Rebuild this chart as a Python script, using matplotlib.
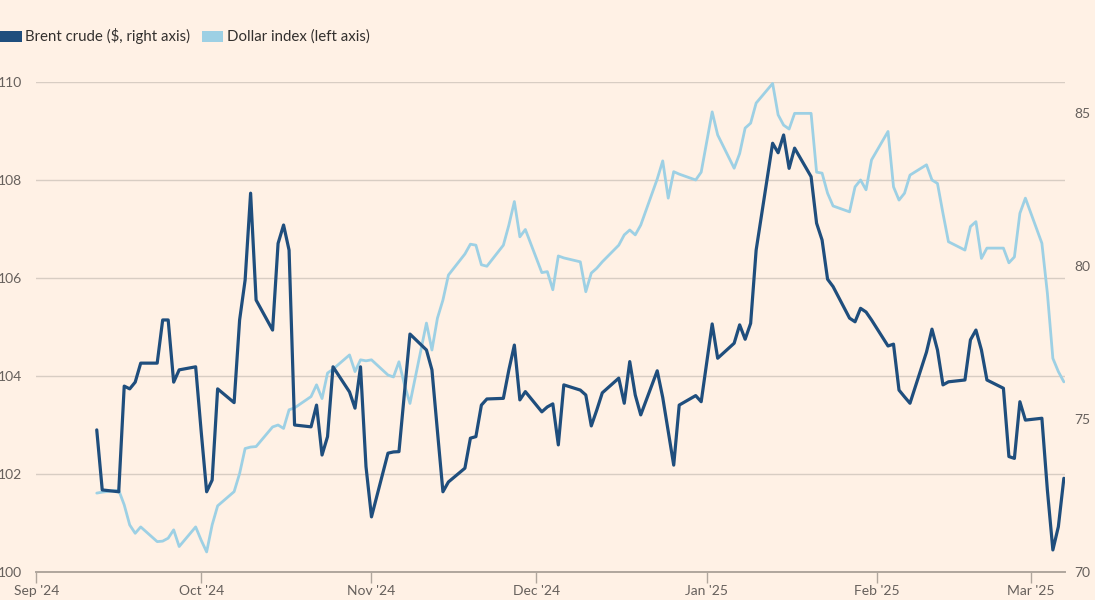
import matplotlib
matplotlib.use("Agg")
import matplotlib.pyplot as plt
from matplotlib.patches import Rectangle
import pandas as pd

# ---- data ----
brent = [
    # Sep 2024
    74.64, 72.68, 72.62, 76.07, 75.98, 76.20, 76.82, 76.82, 78.23, 78.23, 76.20, 76.60, 76.70,
    # Oct
    74.60, 72.62, 73.00, 75.98, 75.53, 78.23, 79.53, 82.37, 78.88, 77.90, 80.73, 81.33, 80.51,
    74.80, 74.74, 75.45, 73.82, 74.42, 76.70, 75.88, 75.35, 76.70, 73.44,
    # Nov
    71.80, 73.88, 73.92, 73.93, 75.85, 77.77, 77.25, 76.60, 74.60, 72.62, 72.94, 73.39, 74.37,
    74.42, 75.45, 75.65, 75.67, 76.60, 77.41, 75.62, 75.89,
    # Dec
    75.23, 75.39, 75.49, 74.15, 76.11, 75.94, 75.78, 74.77, 75.29, 75.85, 76.33, 75.51, 76.87,
    75.78, 75.13, 76.57, 75.70, 73.49, 75.45, 75.76, 75.56,
    # Jan 2025
    78.10, 76.98, 77.47, 78.07, 77.60, 78.12, 80.51, 84.00, 83.69, 84.27, 83.18, 83.84, 82.91,
    81.39, 80.84, 79.56, 79.32, 78.29, 78.17, 78.61, 78.49, 78.23,
    # Feb
    77.38, 77.44, 75.94, 75.72, 75.51, 77.18, 77.93, 77.25, 76.11, 76.21, 76.27, 77.58, 77.90,
    77.25, 76.27, 76.00, 73.77, 73.71, 75.56, 74.96,
    # Mar
    75.02, 72.68, 70.72, 71.48, 73.06,
]

dollar = [
    # Sep 2024
    101.61, 101.63, 101.67, 101.37, 100.96, 100.79, 100.92, 100.62, 100.63, 100.69, 100.86, 100.52, 100.92,
    # Oct
    100.65, 100.41, 100.96, 101.35, 101.64, 102.01, 102.52, 102.55, 102.56, 102.96, 103.00, 102.93, 103.31,
    103.35, 103.58, 103.82, 103.54, 104.06, 104.14, 104.43, 104.09, 104.33, 104.31,
    # Nov
    104.33, 104.02, 103.98, 104.29, 103.82, 103.44, 105.08, 104.53, 105.18, 105.55, 106.06, 106.49, 106.69,
    106.67, 106.27, 106.24, 106.67, 107.08, 107.56, 106.84, 106.99,
    # Dec (includes 25 Dec)
    106.11, 106.13, 105.76, 106.45, 106.41, 106.33, 105.72, 106.10, 106.20, 106.33, 106.67, 106.88, 106.98,
    106.88, 107.08, 108.02, 108.39, 107.63, 108.17, 108.12, 108.00, 108.16,
    # Jan 2025
    109.39, 108.92, 108.24, 108.54, 109.06, 109.16, 109.57, 109.97, 109.33, 109.12, 109.04, 109.36, 109.36,
    108.16, 108.14, 107.73, 107.47, 107.35, 107.86, 108.00, 107.80, 108.41,
    # Feb
    108.99, 107.86, 107.59, 107.73, 108.10, 108.31, 108.00, 107.93, 107.32, 106.74, 106.57, 107.05, 107.15,
    106.40, 106.61, 106.61, 106.31, 106.43, 107.32, 107.63,
    # Mar
    106.71, 105.69, 104.36, 104.09, 103.88,
]

bdays = pd.bdate_range("2024-09-12", "2025-03-07")
brent_dates = bdays[~bdays.isin(pd.to_datetime(["2024-12-25", "2025-01-01"]))]
dollar_dates = bdays[~bdays.isin(pd.to_datetime(["2025-01-01"]))]

left_ticks = [100, 102, 104, 106, 108, 110]
right_ticks = [70, 75, 80, 85]
month_ticks = pd.to_datetime(["2024-09-01", "2024-10-01", "2024-11-01", "2024-12-01",
                              "2025-01-01", "2025-02-01", "2025-03-01"])
month_labels = ["Sep '24", "Oct '24", "Nov '24", "Dec '24", "Jan '25", "Feb '25", "Mar '25"]

legend_labels = ["Brent crude ($, right axis)", "Dollar index (left axis)"]

# ---- style ----
BG = "#fff1e5"
DARK = "#1f4e7d"
LIGHT = "#9dd0e4"
GRID = "#d8cdc3"
AXIS = "#b0a69d"
TXT = "#66605c"
plt.rcParams["font.family"] = ["Lato", "DejaVu Sans"]

fig = plt.figure(figsize=(10.95, 6.0), dpi=100, facecolor=BG)
ax = fig.add_axes([36.3 / 1095, 28 / 600, (1065 - 36.3) / 1095, 490 / 600])
ax.set_facecolor(BG)
ax2 = ax.twinx()

ax.plot(dollar_dates, dollar, color=LIGHT, lw=2.0, solid_joinstyle="round", solid_capstyle="round")
ax2.plot(brent_dates, brent, color=DARK, lw=2.3, solid_joinstyle="round", solid_capstyle="round")

ax.set_ylim(100, 110)
ax2.set_ylim(70, 86)
ax.set_xlim(pd.Timestamp("2024-09-01"), pd.Timestamp("2025-03-07 05:00"))

ax.set_yticks(left_ticks)
ax.set_yticklabels([str(t) for t in left_ticks])
ax2.set_yticks(right_ticks)
ax2.set_yticklabels([str(t) for t in right_ticks])

ax.yaxis.grid(True, color=GRID, lw=1.0)
ax.set_axisbelow(True)
ax.xaxis.grid(False)

for a in (ax, ax2):
    for s in ("top", "left", "right"):
        a.spines[s].set_visible(False)
ax2.spines["bottom"].set_visible(False)
ax.spines["bottom"].set_color(AXIS)
ax.spines["bottom"].set_linewidth(1.4)
ax.spines["bottom"].set_zorder(5)

ax.tick_params(axis="y", length=0, pad=10, labelsize=10, labelcolor=TXT)
ax2.tick_params(axis="y", length=0, pad=7, labelsize=10, labelcolor=TXT)

ax.set_xticks(month_ticks)
ax.set_xticklabels(month_labels)
ax.tick_params(axis="x", length=8, width=1, color=AXIS, pad=1.5, labelsize=10, labelcolor=TXT)

# ---- legend ----
fig.patches.append(Rectangle((0, 1 - 42 / 600), 22 / 1095, 11 / 600, transform=fig.transFigure,
                             facecolor=DARK, edgecolor="none"))
fig.text(25 / 1095, 1 - 36.5 / 600, legend_labels[0], ha="left", va="center", fontsize=10.8, color="#33302e")
fig.patches.append(Rectangle((202 / 1095, 1 - 42 / 600), 21 / 1095, 11 / 600, transform=fig.transFigure,
                             facecolor=LIGHT, edgecolor="none"))
fig.text(227 / 1095, 1 - 36.5 / 600, legend_labels[1], ha="left", va="center", fontsize=10.8, color="#33302e")

fig.savefig("out.png", dpi=100, facecolor=BG)
